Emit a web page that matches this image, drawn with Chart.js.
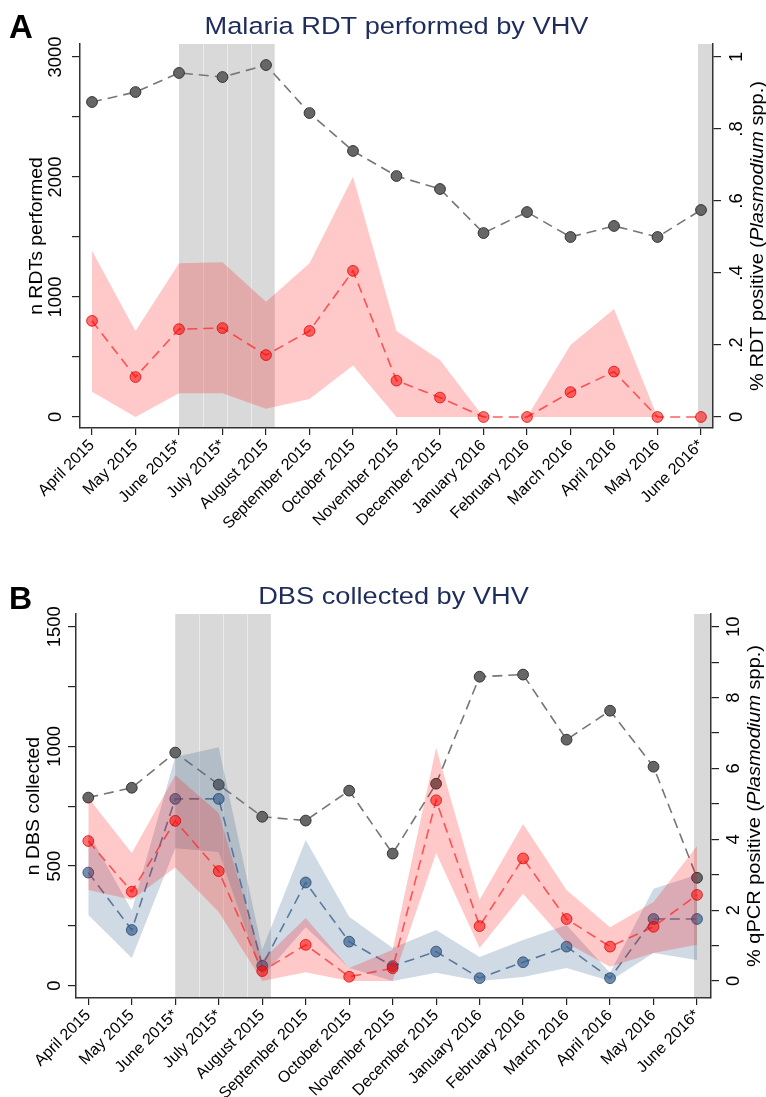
<!DOCTYPE html>
<html lang="en">
<head>
    <meta charset="UTF-8">
    <title>Malaria RDT and DBS by VHV</title>
    <script src="https://cdn.jsdelivr.net/npm/chart.js"></script>
    <style>
        body { margin: 0; background: #fff; }
        canvas { position: absolute; left: 0; }
    </style>
</head>
<body>
    <canvas id="chartA" width="766" height="550" style="top:0"></canvas>
    <canvas id="chartB" width="766" height="547" style="top:550px"></canvas>
    <script>
        const months = ['April 2015', 'May 2015', 'June 2015*', 'July 2015*', 'August 2015', 'September 2015',
            'October 2015', 'November 2015', 'December 2015', 'January 2016', 'February 2016', 'March 2016',
            'April 2016', 'May 2016', 'June 2016*'];

        // panel A - RDTs
        const rdtPerformed = [2625, 2708, 2867, 2833, 2933, 2533, 2217, 2008, 1900, 1533, 1708, 1500, 1592, 1500, 1725];
        const rdtPositive = [0.267, 0.111, 0.244, 0.247, 0.172, 0.239, 0.406, 0.101, 0.054, 0, 0, 0.069, 0.126, 0, 0];
        const rdtPositiveHi = [0.462, 0.239, 0.427, 0.430, 0.320, 0.427, 0.667, 0.239, 0.158, 0, 0, 0.200, 0.300, 0, 0];
        const rdtPositiveLo = [0.070, 0, 0.066, 0.066, 0.023, 0.050, 0.143, 0, 0, 0, 0, 0, 0, 0, 0];
        const rdtTicks = [0, 500, 1000, 1500, 2000, 2500, 3000];
        const rdtTickLabels = ['0', '', '1000', '', '2000', '', '3000'];
        const rdtPctTicks = [0, 0.2, 0.4, 0.6, 0.8, 1];
        const rdtPctTickLabels = ['0', '.2', '.4', '.6', '.8', '1'];

        // panel B - DBS / qPCR
        const dbsCollected = [786, 827, 974, 840, 706, 690, 815, 552, 844, 1291, 1300, 1028, 1149, 915, 451];
        const pcrRed = [3.95, 2.52, 4.52, 3.10, 0.28, 1.02, 0.12, 0.36, 5.10, 1.55, 3.46, 1.75, 0.97, 1.53, 2.43];
        const pcrRedHi = [5.17, 3.61, 5.81, 4.74, 0.59, 1.78, 0.37, 0.88, 6.58, 2.29, 4.43, 2.57, 1.52, 2.23, 3.81];
        const pcrRedLo = [2.57, 2.29, 3.20, 1.95, 0, 0.25, 0, 0, 3.61, 0.93, 2.46, 1.07, 0.40, 0.79, 1.02];
        const pcrBlue = [3.06, 1.44, 5.14, 5.14, 0.43, 2.78, 1.11, 0.42, 0.83, 0.08, 0.53, 0.97, 0.08, 1.75, 1.75];
        const pcrBlueHi = [4.20, 2.00, 6.32, 6.60, 0.88, 3.98, 1.81, 0.93, 1.44, 0.68, 1.16, 1.58, 0.23, 2.60, 3.00];
        const pcrBlueLo = [1.86, 0.65, 3.75, 3.64, 0.11, 1.52, 0.37, 0, 0.23, 0, 0.11, 0.37, 0, 0.79, 0.59];
        const dbsTicks = [0, 250, 500, 750, 1000, 1250, 1500];
        const dbsTickLabels = ['0', '', '500', '', '1000', '', '1500'];
        const pcrTicks = [0, 1, 2, 3, 4, 5, 6, 7, 8, 9, 10];
        const pcrTickLabels = ['0', '', '2', '', '4', '', '6', '', '8', '', '10'];

        // shaded months (x in month index units)
        const shadeSpans = [[2, 4.2], [13.93, null]];
        const shadeSplits = [2.55, 3.1, 3.65];

        const FONT = "'Liberation Sans', Arial, Helvetica, sans-serif";
        const TICK_SIZE = 18.4;
        Chart.defaults.font.family = FONT;
        Chart.defaults.color = '#000';

        const measureCtx = document.createElement('canvas').getContext('2d');
        function widest(labels) {
            measureCtx.font = TICK_SIZE + 'px ' + FONT;
            return Math.max(...labels.map(l => measureCtx.measureText(l).width));
        }

        const pts = arr => arr.map((v, i) => ({ x: i, y: v }));

        function lineSet(data, axis, color, fill, border, order) {
            return {
                data: pts(data), yAxisID: axis, order,
                borderColor: color, borderWidth: 1.6, borderDash: [10, 6],
                pointRadius: 5.4, pointBackgroundColor: fill, pointBorderColor: border, pointBorderWidth: 1,
                fill: false, tension: 0
            };
        }
        function bandSet(data, axis, color, fill, order) {
            return {
                data: pts(data), yAxisID: axis, order,
                borderWidth: 0, pointRadius: 0, backgroundColor: color, fill: fill, tension: 0
            };
        }

        function drawRich(ctx, parts, x, y, size, stretch) {
            ctx.save();
            ctx.translate(x, y);
            ctx.rotate(-Math.PI / 2);
            ctx.scale(stretch, 1);
            let total = 0;
            parts.forEach(p => {
                ctx.font = (p.i ? 'italic ' : '') + size + 'px ' + FONT;
                p.w = ctx.measureText(p.t).width;
                total += p.w;
            });
            let cx = -total / 2;
            ctx.fillStyle = '#000';
            ctx.textBaseline = 'alphabetic';
            ctx.textAlign = 'left';
            parts.forEach(p => {
                ctx.font = (p.i ? 'italic ' : '') + size + 'px ' + FONT;
                ctx.fillText(p.t, cx, 0);
                cx += p.w;
            });
            ctx.restore();
        }

        const decor = {
            id: 'decor',
            beforeDraw(chart, args, o) {
                const { ctx, chartArea: a } = chart;
                const x = chart.scales.x;
                ctx.save();
                ctx.fillStyle = '#d9d9d9';
                shadeSpans.forEach(([s, e]) => {
                    const x0 = x.getPixelForValue(s);
                    const x1 = e === null ? a.right : x.getPixelForValue(e);
                    ctx.fillRect(x0, a.top, x1 - x0, a.bottom - a.top);
                });
                ctx.strokeStyle = 'rgba(255,255,255,0.45)';
                ctx.lineWidth = 1;
                shadeSplits.forEach(v => {
                    const px = Math.round(x.getPixelForValue(v)) + 0.5;
                    ctx.beginPath();
                    ctx.moveTo(px, a.top);
                    ctx.lineTo(px, a.bottom);
                    ctx.stroke();
                });
                ctx.restore();
            },
            afterDraw(chart, args, o) {
                const { ctx, chartArea: a } = chart;
                const midY = (a.top + a.bottom) / 2;
                const midX = (a.left + a.right) / 2;
                ctx.save();
                // panel letter
                ctx.font = 'bold ' + o.letterSize + 'px ' + FONT;
                ctx.fillStyle = '#000';
                ctx.textAlign = 'left';
                ctx.fillText(o.letter, 9, o.letterY);
                // title
                ctx.translate(midX, o.titleY);
                ctx.scale(1.11, 1);
                ctx.font = '24.5px ' + FONT;
                ctx.fillStyle = '#1f2d5c';
                ctx.textAlign = 'center';
                ctx.fillText(o.title, 0, 0);
                ctx.restore();
                drawRich(ctx, [{ t: o.leftTitle }], o.leftX, midY, 18, 1.08);
                drawRich(ctx, o.rightTitle, o.rightX, midY, 18.5, 1.08);
            }
        };

        function makeChart(id, cfg) {
            const canvas = document.getElementById(id);
            const a = cfg.area;
            const step = (a.right - a.left - cfg.padL - cfg.padR) / (months.length - 1);
            const wl = widest(cfg.left.labels);
            const wr = widest(cfg.right.labels);
            const tl = 8;
            return new Chart(canvas, {
                type: 'line',
                data: { datasets: cfg.datasets },
                options: {
                    responsive: false,
                    animation: false,
                    devicePixelRatio: 1,
                    layout: { padding: { top: a.top, left: 0, right: 0, bottom: 0 } },
                    plugins: {
                        legend: { display: false },
                        tooltip: { enabled: false },
                        decor: cfg.decor
                    },
                    scales: {
                        x: {
                            type: 'linear', position: 'bottom',
                            min: -cfg.padL / step, max: months.length - 1 + cfg.padR / step,
                            afterBuildTicks: s => { s.ticks = months.map((m, i) => ({ value: i })); },
                            afterFit: s => { s.height = canvas.height - a.bottom; },
                            ticks: {
                                autoSkip: false, minRotation: 45, maxRotation: 45, padding: 1,
                                font: { size: 16 }, color: '#000',
                                callback: v => months[v]
                            },
                            grid: { drawOnChartArea: false, drawTicks: true, tickLength: 7, color: '#222', lineWidth: 1.2 },
                            border: { display: true, color: '#333', width: 1.5 }
                        },
                        y: {
                            type: 'linear', position: 'left', min: cfg.left.min, max: cfg.left.max,
                            afterBuildTicks: s => { s.ticks = cfg.left.ticks.map(v => ({ value: v })); },
                            afterFit: s => { s.width = a.left; },
                            ticks: {
                                minRotation: 90, maxRotation: 90, crossAlign: 'center',
                                padding: (a.left - cfg.left.labelX) - tl - wl / 2,
                                font: { size: TICK_SIZE }, color: '#000',
                                callback: (v, i) => cfg.left.labels[i]
                            },
                            grid: { drawOnChartArea: false, drawTicks: true, tickLength: tl, color: '#222', lineWidth: 1.2 },
                            border: { display: true, color: '#333', width: 1.5 }
                        },
                        y2: {
                            type: 'linear', position: 'right', min: cfg.right.min, max: cfg.right.max,
                            afterBuildTicks: s => { s.ticks = cfg.right.ticks.map(v => ({ value: v })); },
                            afterFit: s => { s.width = canvas.width - a.right; },
                            ticks: {
                                minRotation: 90, maxRotation: 90, crossAlign: 'center',
                                padding: (cfg.right.labelX - a.right) - tl - wr / 2,
                                font: { size: TICK_SIZE }, color: '#000',
                                callback: (v, i) => cfg.right.labels[i]
                            },
                            grid: { drawOnChartArea: false, drawTicks: true, tickLength: tl, color: '#222', lineWidth: 1.2 },
                            border: { display: true, color: '#333', width: 1.5 }
                        }
                    }
                },
                plugins: [decor]
            });
        }

        const GREY_LINE = '#767676', GREY_FILL = '#666666', GREY_EDGE = '#333333';
        const RED_LINE = 'rgba(255,40,40,0.75)', RED_FILL = 'rgba(255,0,0,0.55)', RED_EDGE = 'rgba(215,0,0,0.75)';
        const RED_BAND = 'rgba(255,0,0,0.21)';
        const BLUE_LINE = 'rgba(70,105,145,0.85)', BLUE_FILL = 'rgba(60,100,145,0.72)', BLUE_EDGE = 'rgba(40,70,110,0.8)';
        const BLUE_BAND = 'rgba(60,100,145,0.24)';

        makeChart('chartA', {
            area: { left: 80, right: 713, top: 44, bottom: 428 },
            padL: 12, padR: 12,
            left: { min: -91.7, max: 3108.3, ticks: rdtTicks, labels: rdtTickLabels, labelX: 56.3 },
            right: { min: -0.0306, max: 1.0361, ticks: rdtPctTicks, labels: rdtPctTickLabels, labelX: 736.5 },
            datasets: [
                lineSet(rdtPerformed, 'y', GREY_LINE, GREY_FILL, GREY_EDGE, 0),
                lineSet(rdtPositive, 'y2', RED_LINE, RED_FILL, RED_EDGE, 1),
                bandSet(rdtPositiveHi, 'y2', RED_BAND, '+1', 2),
                bandSet(rdtPositiveLo, 'y2', RED_BAND, false, 3)
            ],
            decor: {
                letter: 'A', letterSize: 33, letterY: 38,
                title: 'Malaria RDT performed by VHV', titleY: 34,
                leftTitle: 'n RDTs performed', leftX: 42,
                rightTitle: [{ t: '% RDT positive (' }, { t: 'Plasmodium', i: true }, { t: ' spp.)' }], rightX: 763
            }
        });

        makeChart('chartB', {
            area: { left: 76, right: 711, top: 64, bottom: 448 },
            padL: 12.3, padR: 14,
            left: { min: -51.4, max: 1553.1, ticks: dbsTicks, labels: dbsTickLabels, labelX: 54.7 },
            right: { min: -0.48, max: 10.358, ticks: pcrTicks, labels: pcrTickLabels, labelX: 733.5 },
            datasets: [
                lineSet(pcrRed, 'y2', RED_LINE, RED_FILL, RED_EDGE, 0),
                bandSet(pcrRedHi, 'y2', RED_BAND, '+1', 1),
                bandSet(pcrRedLo, 'y2', RED_BAND, false, 2),
                lineSet(pcrBlue, 'y2', BLUE_LINE, BLUE_FILL, BLUE_EDGE, 3),
                bandSet(pcrBlueHi, 'y2', BLUE_BAND, '+1', 4),
                bandSet(pcrBlueLo, 'y2', BLUE_BAND, false, 5),
                lineSet(dbsCollected, 'y', GREY_LINE, GREY_FILL, GREY_EDGE, 6)
            ],
            decor: {
                letter: 'B', letterSize: 32, letterY: 59,
                title: 'DBS collected by VHV', titleY: 54,
                leftTitle: 'n DBS collected', leftX: 38.5,
                rightTitle: [{ t: '% qPCR positive (' }, { t: 'Plasmodium', i: true }, { t: ' spp.)' }], rightX: 759.5
            }
        });
    </script>
</body>
</html>
